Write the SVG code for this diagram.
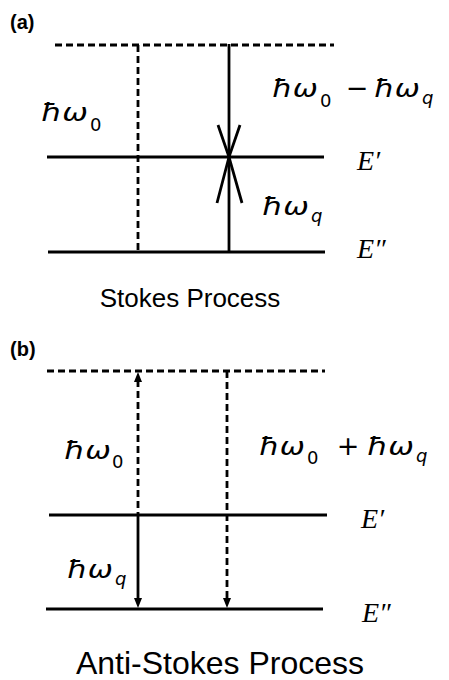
<svg xmlns="http://www.w3.org/2000/svg" width="449" height="680" viewBox="0 0 449 680">
<style>
.ln{stroke:#000;stroke-width:2.8;fill:none}
.ds{stroke:#000;stroke-width:2.8;fill:none;stroke-dasharray:7 4}
.m{font-family:"DejaVu Sans",sans-serif;font-style:oblique;font-size:25px;fill:#000}
.s{font-family:"DejaVu Sans",sans-serif;font-size:18px;fill:#000}
.sq{font-family:"DejaVu Sans",sans-serif;font-style:oblique;font-size:18px;fill:#000}
.op{font-family:"DejaVu Sans",sans-serif;font-size:27px;fill:#000;text-anchor:middle}
.e{font-family:"Liberation Serif",serif;font-style:italic;font-size:28px;fill:#000}
.lab{font-family:"Liberation Sans",Arial,sans-serif;font-weight:bold;font-size:20px;fill:#000}
.cap{font-family:"Liberation Sans",Arial,sans-serif;fill:#000;text-anchor:middle}
</style>

<g id="panel-a">
<text class="lab" x="10" y="29">(a)</text>
<g id="a-levels">
<line class="ds" x1="55" y1="45" x2="334" y2="45"/>
<line class="ln" x1="47" y1="157" x2="324" y2="157"/>
<line class="ln" x1="48" y1="252" x2="325" y2="252"/>
</g>
<g id="a-connectors">
<line class="ds" x1="138" y1="45" x2="138" y2="252"/>
<line class="ln" x1="229" y1="44" x2="229" y2="252"/>
<path class="ln" d="M218,125 L229,157 L240,125 M217,203 L229,157 L242,203"/>
</g>
<g id="a-labels">
<text class="m" x="41" y="121" textLength="47" lengthAdjust="spacingAndGlyphs">ħω</text><text class="s" x="90" y="131">0</text>
<text class="m" x="272" y="97" textLength="46" lengthAdjust="spacingAndGlyphs">ħω</text><text class="s" x="320" y="107">0</text>
<text class="op" x="357" y="97">−</text>
<text class="m" x="374" y="97" textLength="46" lengthAdjust="spacingAndGlyphs">ħω</text><text class="sq" x="422" y="104">q</text>
<text class="m" x="262" y="215" textLength="47" lengthAdjust="spacingAndGlyphs">ħω</text><text class="sq" x="311" y="222">q</text>
<text class="e" x="357" y="170">E′</text>
<text class="e" x="357" y="258">E″</text>
</g>
<text class="cap" x="190" y="307" font-size="26">Stokes Process</text>
</g>

<g id="panel-b">
<text class="lab" x="10" y="356">(b)</text>
<g id="b-levels">
<line class="ds" x1="47" y1="371" x2="325" y2="371"/>
<line class="ln" x1="49" y1="515" x2="327" y2="515"/>
<line class="ln" x1="46" y1="609" x2="323" y2="609"/>
</g>
<g id="b-connectors">
<line class="ds" x1="138" y1="380" x2="138" y2="515"/>
<path d="M134,382 L142,382 L138,372 Z" fill="#000"/>
<line class="ln" x1="138" y1="515" x2="138" y2="600"/>
<path d="M134,598 L142,598 L138,608 Z" fill="#000"/>
<line class="ds" x1="227" y1="371" x2="227" y2="600"/>
<path d="M223,598 L231,598 L227,608 Z" fill="#000"/>
</g>
<g id="b-labels">
<text class="m" x="64" y="459" textLength="47" lengthAdjust="spacingAndGlyphs">ħω</text><text class="s" x="112" y="468">0</text>
<text class="m" x="259" y="455" textLength="46" lengthAdjust="spacingAndGlyphs">ħω</text><text class="s" x="307" y="464">0</text>
<text class="op" x="348" y="455">+</text>
<text class="m" x="367" y="455" textLength="47" lengthAdjust="spacingAndGlyphs">ħω</text><text class="sq" x="416" y="462">q</text>
<text class="m" x="67" y="578" textLength="46" lengthAdjust="spacingAndGlyphs">ħω</text><text class="sq" x="115" y="585">q</text>
<text class="e" x="361" y="528">E′</text>
<text class="e" x="362" y="622">E″</text>
</g>
<text class="cap" x="220" y="674" font-size="32">Anti-Stokes Process</text>
</g>
</svg>
